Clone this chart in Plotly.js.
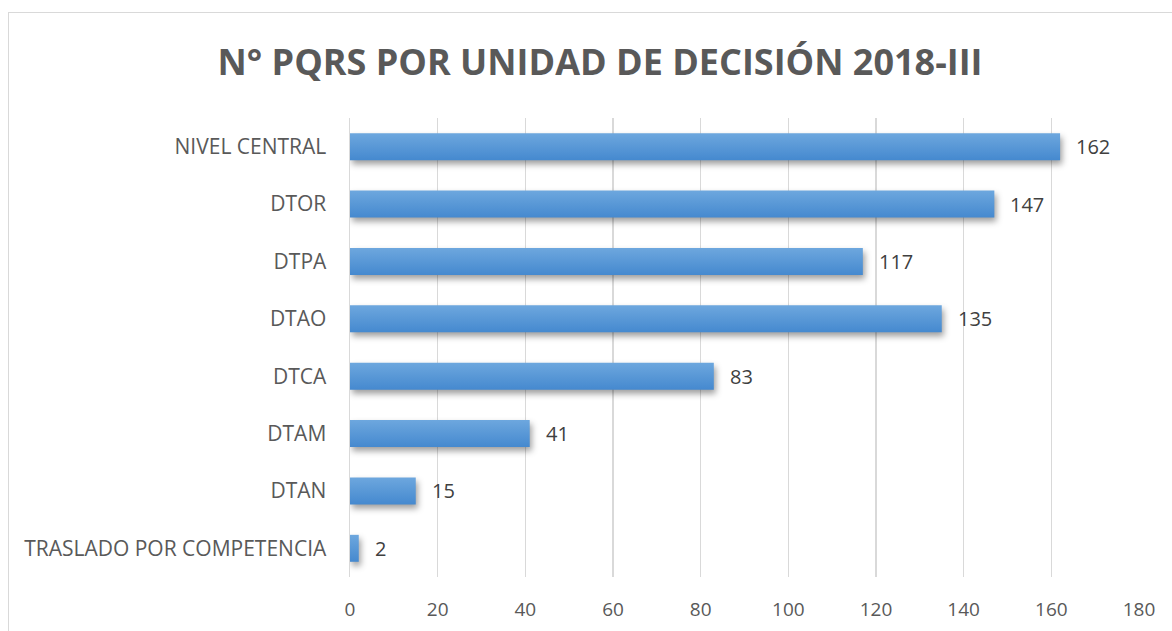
<!DOCTYPE html>
<html>
<head>
<meta charset="utf-8">
<script src="https://cdn.plot.ly/plotly-3.0.1.min.js"></script>
<style>
  html, body { margin: 0; padding: 0; background: #fff; }
  #wrap { position: relative; width: 1172px; height: 631px; overflow: hidden; }
  #frame { position: absolute; left: 8px; top: 12px; width: 1200px; height: 700px; border: 1.5px solid #d9d9d9; box-sizing: border-box; pointer-events: none; }
  #chart { position: absolute; left: 0; top: 0; width: 1172px; height: 631px; }
  .barlayer .point path { filter: drop-shadow(2px 4px 3px rgba(0,0,0,0.38)); }
</style>
</head>
<body>
<div id="wrap">
  <div id="chart"></div>
  <div id="frame"></div>
</div>
<script>
const categories = ["NIVEL CENTRAL", "DTOR", "DTPA", "DTAO", "DTCA", "DTAM", "DTAN", "TRASLADO POR COMPETENCIA"];
const values = [162, 147, 117, 135, 83, 41, 15, 2];
const xTicks = [0, 20, 40, 60, 80, 100, 120, 140, 160, 180];
const chartTitle = "N° PQRS POR UNIDAD DE DECISIÓN 2018-III";

const trace = {
  type: "bar",
  orientation: "h",
  x: values,
  y: categories,
  width: 0.47,
  marker: { color: "#5b9bd5", line: { width: 0 } },
  hoverinfo: "none"
};

const annotations = values.map((v, i) => ({
  x: v, y: categories[i], xref: "x", yref: "y",
  text: String(v), showarrow: false, xanchor: "left", yanchor: "middle",
  xshift: 14, font: { family: "Open Sans", size: 20, color: "#404040" }
}));

const layout = {
  width: 1172, height: 631,
  margin: { l: 350, r: 33, t: 118, b: 54, pad: 0 },
  paper_bgcolor: "rgba(0,0,0,0)",
  plot_bgcolor: "rgba(0,0,0,0)",
  title: {
    text: "<b>" + chartTitle + "</b>",
    font: { family: "Open Sans", size: 36, color: "#595959" },
    x: 600 / 1172, xanchor: "center", xref: "container",
    y: 1 - 62 / 631, yref: "container", yanchor: "middle"
  },
  xaxis: {
    range: [0, 180],
    tickvals: xTicks,
    ticktext: xTicks.map(String),
    showgrid: true, gridcolor: "#d9d9d9", gridwidth: 1.5,
    zeroline: false, showline: false,
    ticks: "outside", ticklen: 15, tickcolor: "rgba(0,0,0,0)",
    tickfont: { family: "Open Sans", size: 19, color: "#595959" },
    fixedrange: true
  },
  yaxis: {
    autorange: "reversed",
    showgrid: false, zeroline: false,
    showline: true, linecolor: "#d9d9d9", linewidth: 1.5,
    ticks: "outside", ticklen: 18, tickcolor: "rgba(0,0,0,0)",
    tickfont: { family: "Open Sans", size: 21, color: "#595959" },
    fixedrange: true
  },
  annotations: annotations,
  showlegend: false,
  bargap: 0.53
};

Plotly.newPlot("chart", [trace], layout, { displayModeBar: false, staticPlot: true }).then(gd => {
  const svg = gd.querySelector(".main-svg");
  const ns = "http://www.w3.org/2000/svg";
  let defs = svg.querySelector("defs");
  if (!defs) { defs = document.createElementNS(ns, "defs"); svg.insertBefore(defs, svg.firstChild); }
  const grad = document.createElementNS(ns, "linearGradient");
  grad.setAttribute("id", "barGrad");
  grad.setAttribute("x1", "0"); grad.setAttribute("y1", "0");
  grad.setAttribute("x2", "0"); grad.setAttribute("y2", "1");
  [["0", "#6da7de"], ["1", "#4589cf"]].forEach(([o, c]) => {
    const s = document.createElementNS(ns, "stop");
    s.setAttribute("offset", o); s.setAttribute("stop-color", c);
    grad.appendChild(s);
  });
  defs.appendChild(grad);
  gd.querySelectorAll(".barlayer .point path").forEach(p => { p.style.fill = "url(#barGrad)"; });
});
</script>
</body>
</html>
